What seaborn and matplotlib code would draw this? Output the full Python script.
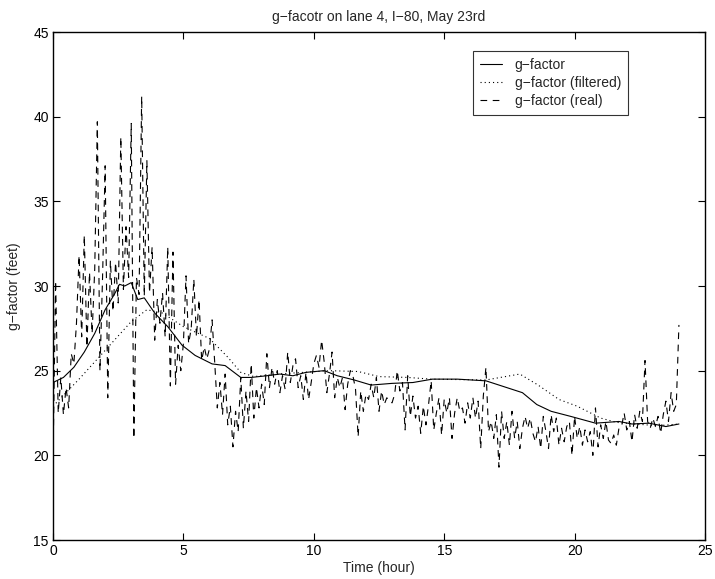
import numpy as np
import matplotlib
matplotlib.use('Agg')
import matplotlib.pyplot as plt
import seaborn as sns

# g-factor, raw 6-minute samples (0.1 h apart)
real_vals = [
    19.6, 30.3, 22.5, 24.6, 22.4, 24.0, 22.8, 26.0, 25.4, 27.8,
    31.8, 27.0, 33.0, 26.4, 30.8, 27.2, 31.0, 39.7, 25.0, 30.5,
    37.1, 23.4, 31.5, 28.5, 31.4, 29.0, 38.8, 29.8, 33.5, 30.5,
    39.6, 21.0, 30.5, 29.5, 41.2, 29.4, 37.4, 29.6, 32.3, 26.8,
    29.2, 27.8, 29.6, 27.0, 32.3, 24.1, 32.0, 24.2, 26.5, 25.0,
    26.6, 30.6, 26.6, 27.5, 30.4, 27.0, 29.2, 25.6, 26.4, 25.7,
    26.3, 28.0, 25.5, 22.8, 24.3, 22.4, 24.8, 21.8, 22.9, 20.5,
    22.6, 21.4, 24.6, 21.6, 23.8, 22.0, 25.4, 22.2, 24.0, 22.8,
    24.2, 23.0, 26.0, 24.0, 25.2, 24.2, 25.0, 23.7, 24.7, 23.9,
    26.1, 24.3, 25.3, 25.7, 24.0, 24.7, 23.3, 24.9, 23.3, 24.3,
    25.4, 25.9, 25.2, 26.8, 25.5, 23.7, 24.8, 26.1, 23.4, 24.6,
    24.0, 24.6, 22.7, 24.2, 25.0, 24.7, 23.9, 21.1, 23.8, 22.6,
    23.6, 23.3, 24.2, 23.4, 24.6, 22.6, 23.8, 23.0, 23.4, 23.2,
    23.1, 23.6, 25.0, 23.8, 24.3, 21.5, 24.7, 22.3, 23.5, 22.2,
    22.9, 21.3, 22.9, 21.8, 23.0, 24.4, 21.5, 22.5, 23.4, 21.2,
    23.3, 22.5, 23.4, 21.0, 22.5, 23.4, 22.6, 22.8, 21.9, 23.1,
    22.2, 23.4, 22.2, 23.2, 20.4, 23.5, 25.2, 21.4, 22.0, 21.0,
    22.4, 19.3, 22.6, 21.0, 22.0, 20.6, 22.6, 21.0, 22.0, 20.4,
    21.6, 22.3, 21.6, 22.2, 21.3, 20.8, 21.7, 20.4, 22.3, 21.4,
    20.4, 22.4, 21.4, 22.2, 20.6, 21.6, 20.8, 21.7, 22.0, 20.0,
    22.3, 21.0, 21.7, 20.6, 21.5, 20.8, 21.4, 20.0, 22.8, 20.5,
    21.8, 21.0, 22.0, 20.9, 20.7, 21.2, 20.6, 21.6, 21.7, 22.5,
    21.5, 22.0, 20.8, 22.4, 21.6, 22.6, 22.0, 25.6, 22.0, 21.6,
    22.2, 21.7, 22.3, 21.3, 22.4, 23.2, 22.0, 23.7, 22.6, 23.0,
    27.7,
]
real_time = np.arange(len(real_vals)) * 0.1

# g-factor (solid)
gf_time = [0.0, 0.4, 0.8, 1.2, 1.6, 2.0, 2.35, 2.55, 2.75, 3.0, 3.1, 3.25,
           3.5, 3.9, 4.4, 4.95, 5.45, 6.1, 6.6, 7.2, 7.6, 8.2, 8.7, 9.2,
           9.7, 10.4, 10.9, 11.55, 12.2, 13.0, 13.8, 14.55, 15.5, 16.6,
           17.4, 18.0, 18.55, 19.1, 19.85, 20.8, 21.7, 22.2, 22.85, 23.5, 24.0]
gf_vals = [24.3, 24.6, 25.2, 26.1, 27.2, 28.6, 29.5, 30.1, 30.0, 30.2, 29.8, 29.2,
           29.3, 28.4, 27.6, 26.5, 25.9, 25.4, 25.3, 24.6, 24.6, 24.7, 24.8, 24.7,
           24.9, 25.0, 24.7, 24.45, 24.15, 24.25, 24.3, 24.5, 24.5, 24.4,
           24.0, 23.7, 23.0, 22.6, 22.3, 21.9, 22.0, 21.85, 21.9, 21.7, 21.85]

# g-factor (filtered, dotted)
filt_time = [0.0, 1.0, 2.0, 3.0, 3.6, 4.2, 5.0, 6.0, 6.7, 7.2, 7.7, 8.6, 9.6,
             10.6, 11.7, 12.5, 13.6, 14.5, 16.6, 17.9, 18.6, 19.4, 20.1, 21.0,
             21.6, 22.3, 23.2, 24.0]
filt_vals = [22.9, 24.5, 26.2, 27.9, 28.6, 28.4, 27.6, 26.9, 25.8, 24.9, 24.65, 24.8, 24.9,
             25.0, 24.95, 24.65, 24.6, 24.5, 24.45, 24.8, 24.15, 23.3, 22.9, 22.2,
             21.95, 21.85, 21.75, 21.85]

sns.set_style('ticks', {'xtick.direction': 'in', 'ytick.direction': 'in'})
plt.rcParams['font.family'] = ['Liberation Sans', 'DejaVu Sans']
plt.rcParams['font.size'] = 10
plt.rcParams['lines.scale_dashes'] = False
plt.rcParams['axes.linewidth'] = 1.0

fig = plt.figure(figsize=(7.15, 5.79), dpi=100)
ax = fig.add_axes([53 / 715, 39 / 579, 652 / 715, 508 / 579])

sns.lineplot(x=gf_time, y=gf_vals, ax=ax, color='black', linewidth=0.8,
             estimator=None, sort=False, label='g−factor')
sns.lineplot(x=filt_time, y=filt_vals, ax=ax, color='black', linewidth=0.8,
             linestyle=(0, (0.8, 2.2)), estimator=None, sort=False,
             label='g−factor (filtered)')
sns.lineplot(x=real_time, y=real_vals, ax=ax, color='black', linewidth=0.8,
             linestyle=(0, (4.8, 4.0)), estimator=None, sort=False,
             label='g−factor (real)')

ax.set_xlim(0, 25)
ax.set_ylim(15, 45)
ax.set_xticks([0, 5, 10, 15, 20, 25])
ax.set_yticks([15, 20, 25, 30, 35, 40, 45])
ax.tick_params(direction='in', length=5, width=0.8, top=True, right=True,
               labelsize=10, colors='black', pad=3)
for s in ax.spines.values():
    s.set_visible(True)
    s.set_color('black')

ax.set_xlabel('Time (hour)', fontsize=10, labelpad=2)
ax.set_ylabel('g−factor (feet)', fontsize=10, labelpad=9)
ax.set_title('g−facotr on lane 4, I−80, May 23rd', fontsize=10, pad=8)

leg = ax.legend(loc='upper left', bbox_to_anchor=(0.644, 0.963), borderaxespad=0,
                frameon=True, fancybox=False, shadow=False, fontsize=10,
                handlelength=1.6, handletextpad=0.9, labelspacing=0.3,
                borderpad=0.5)
leg.get_frame().set_edgecolor('black')
leg.get_frame().set_linewidth(0.8)

plt.savefig('out.png', dpi=100)
